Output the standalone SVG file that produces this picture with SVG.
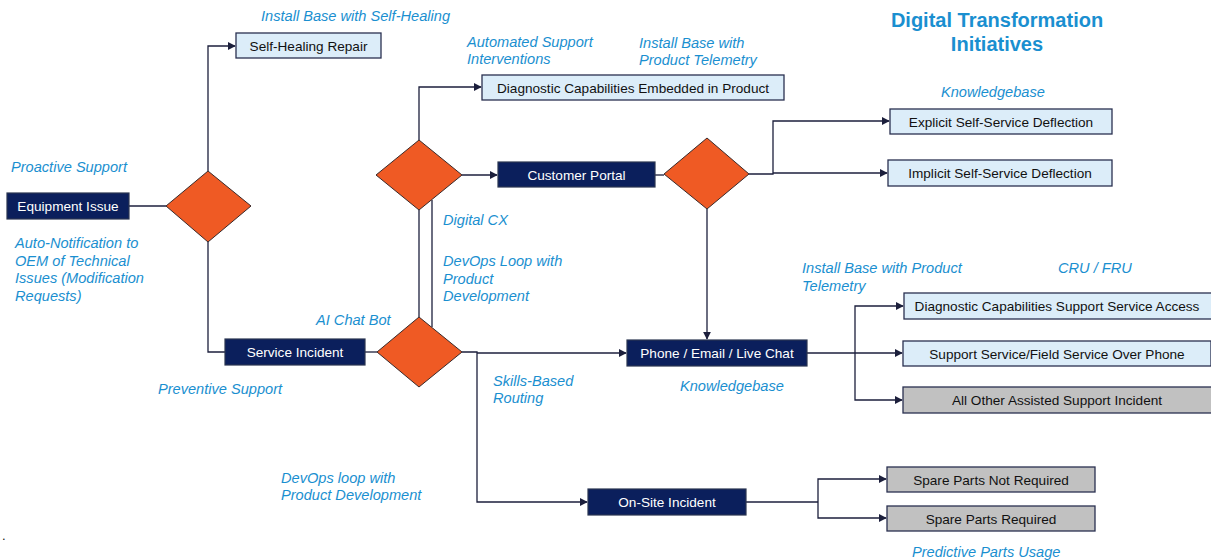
<svg xmlns="http://www.w3.org/2000/svg" width="1211" height="560" viewBox="0 0 1211 560">
<style>
.lbl{font-family:"Liberation Sans",Arial,sans-serif;font-style:italic;font-size:14.6px;fill:#1a8fd0}
.ttl{font-family:"Liberation Sans",Arial,sans-serif;font-weight:bold;font-size:20px;fill:#1a8fd0;text-anchor:middle}
.bt{font-family:"Liberation Sans",Arial,sans-serif;font-size:13.6px;text-anchor:middle;dominant-baseline:central}
.dark rect{fill:#0b1f5c;stroke:#2a3550;stroke-width:1.2}
.dark text{fill:#ffffff}
.light rect{fill:#dcedf9;stroke:#2a3050;stroke-width:1.3}
.light text{fill:#111111}
.gray rect{fill:#c1c1c1;stroke:#2a3050;stroke-width:1.3}
.gray text{fill:#111111}
.dia polygon{fill:#ef5a24;stroke:#3a2a2a;stroke-width:1}
.conn path{fill:none;stroke:#1c1f3c;stroke-width:1.3}
</style>
<defs>
<marker id="arr" viewBox="0 0 10 10" refX="9" refY="5" markerWidth="8" markerHeight="8" markerUnits="userSpaceOnUse" orient="auto">
<path d="M0,0 L10,5 L0,10 z" fill="#1c1f3c"/>
</marker>
</defs>
<rect width="1211" height="560" fill="#ffffff"/>

<g class="conn" id="connectors">
<path d="M129,206 H166"/>
<path d="M208,171 V46 H235" marker-end="url(#arr)"/>
<path d="M208,242 V352 H225"/>
<path d="M365,352 H377"/>
<path d="M419,140 V87 H481" marker-end="url(#arr)"/>
<path d="M462,175 H497" marker-end="url(#arr)"/>
<path d="M419,210 V317"/>
<path d="M432,200 V327"/>
<path d="M655,175 H664"/>
<path d="M749,174 H773 V121 H889" marker-end="url(#arr)"/>
<path d="M773,173 H887" marker-end="url(#arr)"/>
<path d="M707,209 V339" marker-end="url(#arr)"/>
<path d="M462,352 H477 V502 H587" marker-end="url(#arr)"/>
<path d="M477,353 H626" marker-end="url(#arr)"/>
<path d="M807,353 H855"/>
<path d="M855,353 V306 H903" marker-end="url(#arr)"/>
<path d="M855,353 H902" marker-end="url(#arr)"/>
<path d="M855,353 V400 H902" marker-end="url(#arr)"/>
<path d="M746,502 H818"/>
<path d="M818,502 V479 H886" marker-end="url(#arr)"/>
<path d="M818,502 V518 H886" marker-end="url(#arr)"/>
</g>

<g id="equipment-issue" class="dark"><rect x="7" y="193" width="122" height="26"/><text class="bt" x="68" y="206.5">Equipment Issue</text></g>
<g id="decision-1" class="dia"><polygon points="208,171 251,206 208,242 166,206"/></g>
<g id="self-healing-repair" class="light"><rect x="236" y="33" width="145" height="25"/><text class="bt" x="308.5" y="46">Self-Healing Repair</text></g>
<g id="service-incident" class="dark"><rect x="225" y="339" width="140" height="26"/><text class="bt" x="295" y="352.5">Service  Incident</text></g>
<g id="decision-2" class="dia"><polygon points="419,140 462,175 419,210 376,175"/></g>
<g id="decision-3" class="dia"><polygon points="419,317 462,352 419,387 377,352"/></g>
<g id="diag-embedded" class="light"><rect x="482" y="75" width="302" height="25"/><text class="bt" x="633" y="88">Diagnostic Capabilities Embedded in Product</text></g>
<g id="customer-portal" class="dark"><rect x="498" y="162" width="157" height="25"/><text class="bt" x="576.5" y="175">Customer Portal</text></g>
<g id="decision-4" class="dia"><polygon points="707,138 749,174 707,209 664,174"/></g>
<g id="explicit-deflection" class="light"><rect x="890" y="109" width="222" height="25"/><text class="bt" x="1001" y="122">Explicit Self-Service Deflection</text></g>
<g id="implicit-deflection" class="light"><rect x="888" y="160" width="224" height="26"/><text class="bt" x="1000" y="173.5">Implicit Self-Service Deflection</text></g>
<g id="phone-email-chat" class="dark"><rect x="627" y="340" width="180" height="26"/><text class="bt" x="717" y="353.5">Phone / Email / Live Chat</text></g>
<g id="diag-support-access" class="light"><rect x="904" y="293" width="308" height="26"/><text class="bt" x="1057" y="306.5">Diagnostic Capabilities Support Service Access</text></g>
<g id="support-over-phone" class="light"><rect x="903" y="341" width="308" height="25"/><text class="bt" x="1057" y="354">Support Service/Field Service Over Phone</text></g>
<g id="all-other" class="gray"><rect x="903" y="387" width="309" height="26"/><text class="bt" x="1057" y="400.5">All Other Assisted Support Incident</text></g>
<g id="on-site-incident" class="dark"><rect x="588" y="489" width="158" height="26"/><text class="bt" x="667" y="502.5">On-Site Incident</text></g>
<g id="spare-not-required" class="gray"><rect x="887" y="467" width="208" height="25"/><text class="bt" x="991" y="480">Spare Parts Not Required</text></g>
<g id="spare-required" class="gray"><rect x="887" y="506" width="208" height="25"/><text class="bt" x="991" y="519">Spare Parts Required</text></g>

<g id="labels">
<text class="ttl" x="997" y="27">Digital Transformation</text>
<text class="ttl" x="997" y="51">Initiatives</text>
<text class="lbl" x="261" y="21">Install Base with Self-Healing</text>
<text class="lbl" x="11" y="172">Proactive Support</text>
<text class="lbl" x="15" y="248">Auto-Notification to</text>
<text class="lbl" x="15" y="265.5">OEM of Technical</text>
<text class="lbl" x="15" y="283">Issues (Modification</text>
<text class="lbl" x="15" y="300.5">Requests)</text>
<text class="lbl" x="467" y="47">Automated Support</text>
<text class="lbl" x="467" y="64">Interventions</text>
<text class="lbl" x="639" y="48">Install Base with</text>
<text class="lbl" x="639" y="65">Product Telemetry</text>
<text class="lbl" x="443" y="225">Digital CX</text>
<text class="lbl" x="443" y="266">DevOps Loop with</text>
<text class="lbl" x="443" y="283.5">Product</text>
<text class="lbl" x="443" y="301">Development</text>
<text class="lbl" x="316" y="325">AI Chat Bot</text>
<text class="lbl" x="158" y="394">Preventive Support</text>
<text class="lbl" x="281" y="483">DevOps loop with</text>
<text class="lbl" x="281" y="500">Product Development</text>
<text class="lbl" x="493" y="386">Skills-Based</text>
<text class="lbl" x="493" y="403">Routing</text>
<text class="lbl" x="680" y="391">Knowledgebase</text>
<text class="lbl" x="802" y="273">Install Base with Product</text>
<text class="lbl" x="802" y="291">Telemetry</text>
<text class="lbl" x="1058" y="273">CRU / FRU</text>
<text class="lbl" x="941" y="97">Knowledgebase</text>
<text class="lbl" x="912" y="557">Predictive Parts Usage</text>
<text x="2" y="540" font-family="Liberation Sans, Arial, sans-serif" font-size="13" fill="#111111">.</text>
</g>
</svg>
